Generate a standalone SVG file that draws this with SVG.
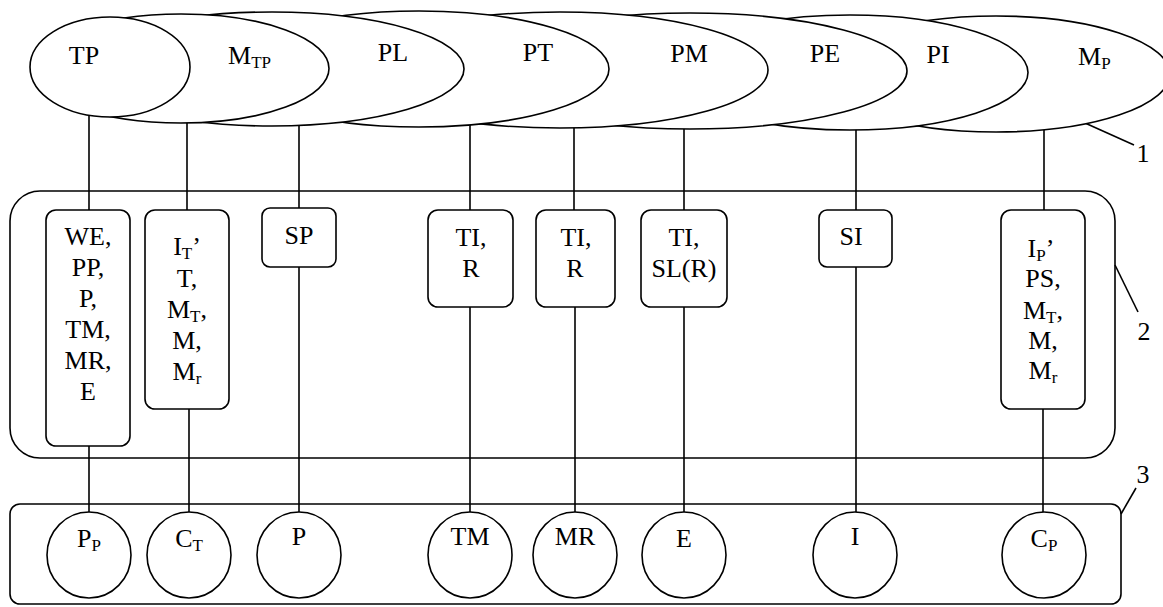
<svg xmlns="http://www.w3.org/2000/svg" width="1163" height="607" viewBox="0 0 1163 607">
<style>
.s{fill:#fff;stroke:#000;stroke-width:1.6}
.c{fill:none;stroke:#000;stroke-width:1.6}
text{font-family:"Liberation Serif","Times New Roman",serif;font-size:26px;fill:#000}
.m{text-anchor:middle}
.sub{font-size:17px}
</style>
<rect width="1163" height="607" fill="#fff"/>
<g id="container-2"><rect class="c" x="10" y="191" width="1105" height="267" rx="30"/></g>
<g id="container-3"><rect class="c" x="10" y="504" width="1111" height="100" rx="10"/></g>
<g id="connectors" class="c">
<line x1="89" y1="100" x2="89" y2="215"/><line x1="89" y1="440" x2="89" y2="520"/>
<line x1="187" y1="100" x2="187" y2="215"/><line x1="189" y1="400" x2="189" y2="520"/>
<line x1="299" y1="100" x2="299" y2="215"/><line x1="299" y1="260" x2="299" y2="520"/>
<line x1="470" y1="100" x2="470" y2="215"/><line x1="470" y1="300" x2="470" y2="520"/>
<line x1="574" y1="100" x2="574" y2="215"/><line x1="575" y1="300" x2="575" y2="520"/>
<line x1="684" y1="100" x2="684" y2="215"/><line x1="684" y1="300" x2="684" y2="520"/>
<line x1="856" y1="100" x2="856" y2="215"/><line x1="856" y1="260" x2="856" y2="520"/>
<line x1="1044" y1="100" x2="1044" y2="215"/><line x1="1043" y1="400" x2="1043" y2="520"/>
<line x1="1085" y1="123" x2="1134" y2="145"/>
<line x1="1115" y1="265" x2="1138" y2="312"/>
<line x1="1121" y1="514" x2="1136" y2="488"/>
</g>
<g id="e-MP"><ellipse class="s" cx="996" cy="74" rx="174" ry="58"/><text x="1078" y="65">M<tspan class="sub" dy="4">P</tspan></text></g>
<g id="e-PI"><ellipse class="s" cx="850" cy="72.5" rx="178" ry="57.5"/><text class="m" x="938" y="63">PI</text></g>
<g id="e-PE"><ellipse class="s" cx="690" cy="71" rx="217" ry="58"/><text class="m" x="825" y="62">PE</text></g>
<g id="e-PM"><ellipse class="s" cx="560" cy="70" rx="208" ry="58"/><text class="m" x="689" y="62">PM</text></g>
<g id="e-PT"><ellipse class="s" cx="419" cy="69" rx="190" ry="58"/><text class="m" x="538" y="61">PT</text></g>
<g id="e-PL"><ellipse class="s" cx="272" cy="69" rx="192" ry="57"/><text class="m" x="393" y="61">PL</text></g>
<g id="e-MTP"><ellipse class="s" cx="181" cy="68.5" rx="148" ry="54.5"/><text x="228" y="64">M<tspan class="sub" dy="4">TP</tspan></text></g>
<g id="e-TP"><ellipse class="s" cx="110" cy="67" rx="80" ry="50"/><text class="m" x="84" y="64">TP</text></g>

<g id="b-WE"><rect class="s" x="46" y="210" width="84" height="236" rx="10"/>
<text class="m" x="88"><tspan x="88" y="245">WE,</tspan><tspan x="88" y="276">PP,</tspan><tspan x="88" y="307">P,</tspan><tspan x="88" y="338">TM,</tspan><tspan x="88" y="369">MR,</tspan><tspan x="88" y="400">E</tspan></text></g>
<g id="b-IT"><rect class="s" x="145" y="210" width="84" height="199" rx="10"/>
<text class="m" x="187" y="255">I<tspan class="sub" dy="4">T</tspan><tspan dy="-4">’</tspan></text>
<text class="m" x="187" y="287">T,</text>
<text class="m" x="187" y="318">M<tspan class="sub" dy="4">T</tspan><tspan dy="-4">,</tspan></text>
<text class="m" x="187" y="349">M,</text>
<text class="m" x="187" y="380">M<tspan class="sub" dy="4">r</tspan></text></g>
<g id="b-SP"><rect class="s" x="262" y="208" width="74" height="59" rx="8"/><text class="m" x="299" y="244">SP</text></g>
<g id="b-TIR1"><rect class="s" x="428" y="210" width="85" height="97" rx="10"/><text class="m" x="471" y="246">TI,</text><text class="m" x="471" y="277">R</text></g>
<g id="b-TIR2"><rect class="s" x="536" y="210" width="79" height="97" rx="10"/><text class="m" x="576" y="246">TI,</text><text class="m" x="575" y="277">R</text></g>
<g id="b-TISL"><rect class="s" x="641" y="210" width="86" height="97" rx="10"/><text class="m" x="684" y="246">TI,</text><text class="m" x="684" y="277">SL(R)</text></g>
<g id="b-SI"><rect class="s" x="819" y="210" width="73" height="57" rx="8"/><text class="m" x="851" y="245">SI</text></g>
<g id="b-IP"><rect class="s" x="1001" y="210" width="84" height="199" rx="10"/>
<text class="m" x="1041" y="257">I<tspan class="sub" dy="4">P</tspan><tspan dy="-4">’</tspan></text>
<text class="m" x="1043" y="287">PS,</text>
<text class="m" x="1043" y="319">M<tspan class="sub" dy="4">T</tspan><tspan dy="-4">,</tspan></text>
<text class="m" x="1043" y="349">M,</text>
<text class="m" x="1043" y="379">M<tspan class="sub" dy="4">r</tspan></text></g>

<g id="c-PP"><ellipse class="s" cx="89" cy="555" rx="42" ry="43"/><text class="m" x="89" y="547">P<tspan class="sub" dy="4">P</tspan></text></g>
<g id="c-CT"><ellipse class="s" cx="189" cy="555" rx="42" ry="43"/><text class="m" x="189" y="547">C<tspan class="sub" dy="4">T</tspan></text></g>
<g id="c-P"><ellipse class="s" cx="299" cy="555" rx="42" ry="43"/><text class="m" x="299" y="545">P</text></g>
<g id="c-TM"><ellipse class="s" cx="470" cy="555" rx="42" ry="43"/><text class="m" x="470" y="545">TM</text></g>
<g id="c-MR"><ellipse class="s" cx="575" cy="555" rx="42" ry="43"/><text class="m" x="575" y="545">MR</text></g>
<g id="c-E"><ellipse class="s" cx="684" cy="555" rx="42" ry="43"/><text class="m" x="684" y="547">E</text></g>
<g id="c-I"><ellipse class="s" cx="855" cy="555" rx="42" ry="43"/><text class="m" x="855" y="545">I</text></g>
<g id="c-CP"><ellipse class="s" cx="1044" cy="555" rx="42" ry="43"/><text class="m" x="1044" y="547">C<tspan class="sub" dy="4">P</tspan></text></g>

<g id="labels">
<text class="m" x="1143" y="162">1</text>
<text class="m" x="1144" y="340">2</text>
<text class="m" x="1143" y="483">3</text>
</g>
</svg>
